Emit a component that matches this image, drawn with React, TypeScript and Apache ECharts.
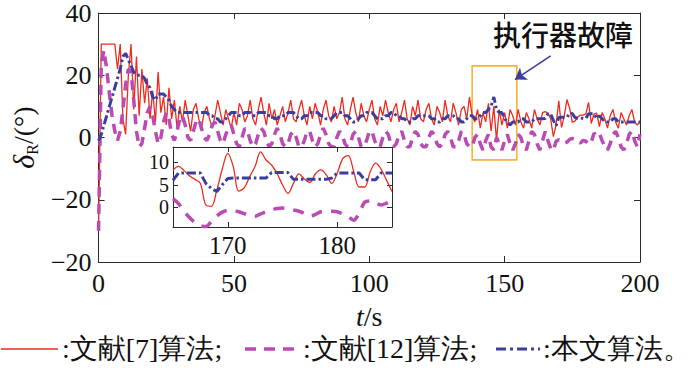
import React, { useEffect, useRef } from 'react';
import * as echarts from 'echarts';

// ---------------- data ----------------
const MAIN_T0 = 0;
const MAIN_STEP = 1; // s

const redMain = [
  -30, 30, 30, 30, 30, 30, 30, 22, 30, 6,
  1, 20, 30, 9, 26, 7, 22, 11, 19, 6,
  15, 5, 21, 8, 13, 4, 16, 6, 12, 3,
  10, 5, 12, 7, 2, 9, 11, 6, 3, 8,
  10, 6, 3, 7, 12, 8, 4, 9, 6, 3,
  8, 4, 11, 9, 5, 7, 12, 6, 4, 9,
  13, 8, 4, 11, 6, 9, 4, 7, 10, 5,
  8, 12, 6, 5, 9, 12, 7, 4, 10, 6,
  11, 8, 4, 9, 12, 7, 5, 10, 6, 8,
  13, 6, 4, 9, 13, 8, 5, 11, 7, 5,
  9, 12, 6, 4, 10, 7, 12, 8, 5, 9,
  11, 5, 8, 12, 6, 4, 10, 7, 12, 6,
  5, 9, 11, 6, 4, 10, 8, 5, 12, 7,
  5, 11, 8, 4, 9, 10, 6, 13, 7, 5,
  9, 3, 8, 5, 11, 2, 10, -1, 9, 4,
  8, 3, 9, 7, 4, 9, 5, 3, 8, 6,
  3, 9, 6, 4, 8, 8.3, 7.8, 6, 0.3, 4,
  11.8, 3.2, 6.8, 12.2, 9.4, 4.8, 5.3, 6.5, 7.2, 7.2,
  7.6, 11.3, 4.5, 7.5, 7.8, 3.5, 8, 6, 3, 7,
  9, 5, 3, 8, 6, 4, 7, 9, 5, 4,
  5,
];

const magentaMain = [
  -30, 24, 28, 22, 14, 7, 2, -1, 2, 9,
  17, 22, 21, 12, 2, -3, -2, 3, 8, 10,
  7, 2, -2, 0, 5, 8, 6, 1, -1, 2,
  6, 7, 4, 0, -1, 2, 5, 6, 3, 0,
  -1, 1, 4, 5, 2, -1, -2, 1, 3, 4,
  1, -2, -3, 0, 3, 2, -1, -3, -2, 1,
  3, 2, -1, -3, -2, 1, 3, 1, -2, -3,
  -2, 1, 2, 0, -3, -3, -1, 2, 2, -1,
  -3, -2, 1, 3, 1, -2, -3, -3, 0, 2,
  1, -2, -3, -2, 1, 2, 0, -3, -3, -1,
  2, 2, -1, -3, -3, 0, 2, 1, -2, -3,
  -2, 1, 2, -1, -3, -3, 0, 2, 1, -2,
  -3, -3, 0, 2, 1, -2, -3, -2, 1, 2,
  0, -3, -3, -1, 2, 1, -2, -3, -3, 0,
  1, -2, -4, -1, 1, -3, -4, 0, -2, -4,
  -1, 1, -2, -4, -2, 1, 0, -3, -4, -1,
  2, 1, -2, -4, -1, 1.9, -1, -3.5, -4.2, -1.2,
  -0.7, -1, -1.8, -1.5, -0.6, -0.3, -0.5, -1.3, -1.8, -0.9,
  -1.2, -2.2, -1.5, 1.4, 0.6, 1.4, -1, -3, -4, -2,
  1, 2, 0, -3, -4, -2, 1, 2, -1, -3,
  1,
];

const blueMain = [
  -1, 1, 4, 7, 10, 13, 16, 19, 22, 26,
  27, 25, 23, 21, 20, 20, 20, 19, 17, 16,
  13, 12, 14, 14, 14, 13, 12, 10, 9, 8,
  8, 8, 8, 8, 8, 8, 8, 8, 8, 8,
  8, 7, 7, 6, 6, 5, 5, 6, 7, 8,
  8, 8, 7, 7, 8, 8, 8, 7, 7, 8,
  8, 8, 8, 7, 7, 6, 6, 7, 7, 7,
  8, 8, 8, 7, 6, 6, 7, 7, 8, 8,
  8, 8, 7, 7, 6, 6, 6, 7, 8, 8,
  8, 7, 7, 6, 5, 5, 6, 7, 7, 8,
  8, 8, 7, 6, 6, 6, 7, 7, 8, 8,
  7, 7, 6, 6, 5, 5, 6, 6, 7, 7,
  7, 7, 7, 6, 6, 5, 5, 6, 6, 7,
  7, 7, 6, 6, 5, 5, 6, 7, 7, 6,
  6, 7, 8, 8, 9, 10, 13, 9, 8, 8,
  6, 5, 4, 5, 5, 5, 6, 6, 5, 5,
  5, 6, 6, 6, 6, 6.1, 7.6, 7.6, 5.5, 3.8,
  6.4, 6.5, 6.5, 6.5, 7.7, 7.7, 6.4, 6.2, 6.2, 6.2,
  6.1, 7.6, 7.6, 7.6, 6.1, 7, 6, 5, 5, 5,
  6, 6, 5, 5, 5, 5, 5, 5, 5, 5,
  5,
];

// inset (zoom of 165–185 s)
const INSET_T0 = 165;
const INSET_STEP = 0.5;

const redInset = [
  8.3, 9.1, 8.2, 7.0, 6.2, 5.3, 0.5, 0.2, 3.8, 8.5,
  12.0, 9.1, 3.6, 4.3, 6.8, 9.1, 12.3, 10.5, 9.4, 7.5,
  5.0, 3.1, 5.3, 7.4, 6.3, 5.5, 7.4, 8.3, 7.2, 5.3,
  7.6, 10.8, 11.5, 8.0, 4.5, 4.5, 7.8, 9.8, 8.5, 6.0,
  3.5,
];

const magentaInset = [
  1.9, 0.8, -0.9, -2.3, -3.4, -4.1, -4.3, -3.2, -2.0, -1.1,
  -0.7, -0.8, -1.0, -1.4, -1.9, -2.0, -1.5, -1.0, -0.6, -0.3,
  -0.2, -0.3, -0.6, -0.9, -1.4, -2.0, -1.6, -1.0, -0.9, -0.9,
  -1.0, -1.5, -2.1, -2.9, -1.3, 1.1, 1.4, 0.9, 0.5, 0.9,
  1.4,
];

const blueInset = [
  6.0, 7.6, 7.6, 7.6, 7.6, 7.6, 5.3, 4.2, 3.5, 5.0,
  6.4, 6.5, 6.5, 6.5, 6.5, 6.5, 6.5, 6.5, 7.7, 7.7,
  7.7, 7.7, 6.2, 6.2, 6.2, 6.2, 6.2, 6.2, 6.2, 6.5,
  7.6, 7.6, 7.6, 7.6, 7.6, 6.1, 6.1, 6.1, 7.6, 7.6,
  7.6,
];

const yTickValues = [-40, -20, 0, 20, 40];
const yTickLabels = ['−20', '−20', '0', '20', '40'];
const insetXTicks = [170, 180];
const insetYTicks = [0, 5, 10];
const insetYOuterLabels = [0, 10];
const insetYMiddleLabels = [5];
const legendNames = ['文献[7]算法', '文献[12]算法', '本文算法'];
const faultLabel = '执行器故障';
const faultBox = [[138, 23], [154.5, -7.2]];
const faultArrow = [[167, 26.2], [153.8, 18.6]];

// ---------------- styles ----------------
const RED = '#EE2B1F';
const MAG = '#BA4AB4';
const BLUE = '#3A3E9E';
const ORANGE = '#F6B335';
const AX = '#2a2a2a';
const SERIF = 'Liberation Serif';
const CJK = 'Noto Sans CJK SC';

const toPairs = (vals: number[], t0: number, step: number) =>
  vals.map((v, i) => [t0 + i * step, v]);

export default function App() {
  const ref = useRef<HTMLDivElement>(null);

  useEffect(() => {
    if (!ref.current) return;
    const chart = echarts.init(ref.current, null, { renderer: 'svg' });

    const axisLine = { onZero: false, lineStyle: { color: AX, width: 1 } };
    const tick = { inside: true, length: 6, lineStyle: { color: AX, width: 1 } };
    const insetXLabel = { fontFamily: SERIF, fontSize: 25, color: '#111', margin: 6 };
    const insetYLabel = { fontFamily: SERIF, fontSize: 20, lineHeight: 20, color: '#111', margin: 4 };

    const legendText = (x: number, text: string) => ({
      type: 'text', x, y: 348,
      style: { text, font: `28px ${SERIF}`, fill: '#111', verticalAlign: 'middle' },
    });

    const insetY = (position: string, extra: any) => ({
      gridIndex: 1, type: 'value', min: -4.4, max: 13.4, position, z: 12,
      splitLine: { show: false }, ...extra,
    });

    const option: any = {
      animation: false,
      backgroundColor: '#fff',
      textStyle: { fontFamily: SERIF },
      grid: [
        { left: 95, right: 60, top: 8, bottom: 106, show: false },
        {
          left: 173, top: 147, width: 219, height: 80,
          show: true, backgroundColor: '#fff', borderWidth: 0, z: 10,
        },
      ],
      xAxis: [
        {
          gridIndex: 0, type: 'value', min: 0, max: 200, interval: 50, position: 'bottom',
          axisLine, axisTick: tick, splitLine: { show: false },
          axisLabel: { fontFamily: SERIF, fontSize: 26, color: '#111', margin: 8 },
          name: '{i|t}{n|/s}', nameLocation: 'middle', nameGap: 40,
          nameTextStyle: {
            fontFamily: SERIF,
            rich: {
              i: { fontFamily: SERIF, fontSize: 28, fontStyle: 'italic', color: '#111' },
              n: { fontFamily: SERIF, fontSize: 28, color: '#111' },
            },
          },
        },
        {
          gridIndex: 0, type: 'value', min: 0, max: 200, interval: 50, position: 'top',
          axisLine, axisTick: tick, splitLine: { show: false }, axisLabel: { show: false },
        },
        {
          gridIndex: 1, type: 'value', min: 165, max: 185, position: 'bottom', z: 12,
          axisLine, splitLine: { show: false },
          axisTick: { ...tick, length: 5, customValues: insetXTicks },
          axisLabel: {
            ...insetXLabel, customValues: insetXTicks,
            showMinLabel: true, showMaxLabel: true,
          },
        },
        {
          gridIndex: 1, type: 'value', min: 165, max: 185, position: 'top', z: 12,
          axisLine, splitLine: { show: false },
          axisTick: { ...tick, length: 5, customValues: insetXTicks },
          axisLabel: { show: false },
        },
      ],
      yAxis: [
        {
          gridIndex: 0, type: 'value', min: -40, max: 40, interval: 20, position: 'left',
          axisLine, axisTick: tick, splitLine: { show: false },
          axisLabel: {
            fontFamily: SERIF, fontSize: 26, color: '#111', margin: 7,
            formatter: (v: number) => {
              const k = yTickValues.indexOf(v);
              return k >= 0 ? yTickLabels[k] : '';
            },
          },
          name: '{d|δ}{s|R}{n|/(°)}', nameLocation: 'middle', nameRotate: 90, nameGap: 52,
          nameTextStyle: {
            fontFamily: SERIF,
            rich: {
              d: { fontFamily: SERIF, fontSize: 30, fontStyle: 'italic', color: '#111', lineHeight: 34 },
              s: { fontFamily: SERIF, fontSize: 16, color: '#111', lineHeight: 16, verticalAlign: 'bottom' },
              n: { fontFamily: SERIF, fontSize: 28, color: '#111', lineHeight: 34 },
            },
          },
        },
        {
          gridIndex: 0, type: 'value', min: -40, max: 40, interval: 20, position: 'right',
          axisLine, axisTick: tick, splitLine: { show: false }, axisLabel: { show: false },
        },
        insetY('left', {
          axisLine,
          axisTick: { ...tick, length: 5, customValues: insetYTicks },
          axisLabel: {
            ...insetYLabel, customValues: insetYOuterLabels,
            showMinLabel: true, showMaxLabel: true,
          },
        }),
        insetY('right', {
          axisLine,
          axisTick: { ...tick, length: 5, customValues: insetYTicks },
          axisLabel: { show: false },
        }),
        insetY('left', {
          axisLine: { show: false },
          axisTick: { show: false },
          axisLabel: {
            ...insetYLabel, customValues: insetYMiddleLabels,
            showMinLabel: true, showMaxLabel: true,
          },
        }),
      ],
      series: [
        {
          name: legendNames[0], type: 'line', xAxisIndex: 0, yAxisIndex: 0,
          data: toPairs(redMain, MAIN_T0, MAIN_STEP), showSymbol: false, z: 2,
          lineStyle: { color: RED, width: 1.3 },
        },
        {
          name: legendNames[1], type: 'line', xAxisIndex: 0, yAxisIndex: 0,
          data: toPairs(magentaMain, MAIN_T0, MAIN_STEP), showSymbol: false, z: 3,
          lineStyle: { color: MAG, width: 3.5, type: [10, 7] },
        },
        {
          name: legendNames[2], type: 'line', xAxisIndex: 0, yAxisIndex: 0,
          data: toPairs(blueMain, MAIN_T0, MAIN_STEP), showSymbol: false, z: 4,
          lineStyle: { color: BLUE, width: 3, type: [9, 3, 2.5, 3] },
          markArea: {
            silent: true,
            itemStyle: { color: 'rgba(0,0,0,0)', borderColor: ORANGE, borderWidth: 1.6 },
            data: [[{ coord: faultBox[0] }, { coord: faultBox[1] }]],
          },
          markLine: {
            silent: true,
            symbol: ['none', 'arrow'],
            symbolSize: 11,
            label: { show: false },
            lineStyle: { color: BLUE, width: 1.6, type: 'solid' },
            data: [[{ coord: faultArrow[0] }, { coord: faultArrow[1] }]],
          },
        },
        {
          type: 'line', xAxisIndex: 2, yAxisIndex: 2, z: 12,
          data: toPairs(redInset, INSET_T0, INSET_STEP), showSymbol: false, smooth: 0.35,
          lineStyle: { color: RED, width: 1.3 },
        },
        {
          type: 'line', xAxisIndex: 2, yAxisIndex: 2, z: 13,
          data: toPairs(magentaInset, INSET_T0, INSET_STEP), showSymbol: false, smooth: 0.3,
          lineStyle: { color: MAG, width: 3.5, type: [11, 9] },
        },
        {
          type: 'line', xAxisIndex: 2, yAxisIndex: 2, z: 14,
          data: toPairs(blueInset, INSET_T0, INSET_STEP), showSymbol: false,
          lineStyle: { color: BLUE, width: 3, type: [9, 3, 2.5, 3] },
        },
      ],
      graphic: [
        {
          type: 'text', x: 563, y: 34, z: 20,
          style: {
            text: faultLabel, font: `500 28px ${CJK}`,
            fill: '#111', align: 'center', verticalAlign: 'middle',
          },
        },
        // legend
        { type: 'line', shape: { x1: 1, y1: 349, x2: 58, y2: 349 }, style: { stroke: RED, lineWidth: 1.3 } },
        legendText(62, ':' + legendNames[0] + ';'),
        {
          type: 'line', shape: { x1: 245, y1: 349, x2: 300, y2: 349 },
          style: { stroke: MAG, lineWidth: 3.5, lineDash: [11, 8] },
        },
        legendText(303, ':' + legendNames[1] + ';'),
        {
          type: 'line', shape: { x1: 496, y1: 349, x2: 540, y2: 349 },
          style: { stroke: BLUE, lineWidth: 3, lineDash: [10, 4, 3, 4] },
        },
        legendText(543, ':' + legendNames[2] + '。'),
      ],
    };

    chart.setOption(option);
    return () => chart.dispose();
  }, []);

  return <div ref={ref} style={{ width: 700, height: 368, position: 'absolute', left: 0, top: 0 }} />;
}
